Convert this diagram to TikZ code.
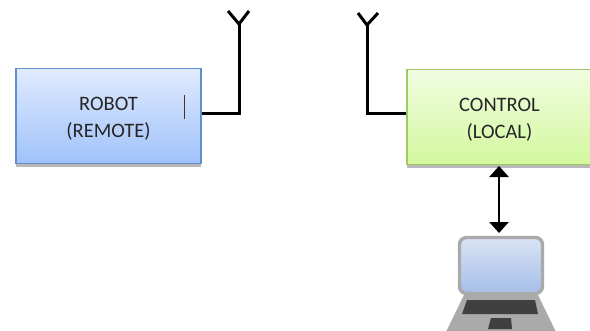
\documentclass[tikz,border=0pt]{standalone}
\usepackage{fontspec}
\setmainfont{Carlito}
\usetikzlibrary{arrows.meta}
\definecolor{blueedge}{RGB}{96,144,204}
\definecolor{bluetop}{RGB}{224,235,254}
\definecolor{bluebot}{RGB}{160,194,250}
\definecolor{greenedge}{RGB}{160,200,100}
\definecolor{greentop}{RGB}{241,253,226}
\definecolor{greenbot}{RGB}{211,248,158}
\definecolor{shadowgray}{RGB}{185,185,185}
\definecolor{lapgray}{RGB}{170,170,170}
\definecolor{lapdark}{RGB}{64,64,64}
\definecolor{scrtop}{RGB}{218,228,244}
\definecolor{scrbot}{RGB}{165,190,232}
\definecolor{tick}{RGB}{80,50,25}
\tikzset{
  x=1pt,y=-1pt,
  boxtext/.style={align=center,font=\fontsize{20.5}{27}\selectfont,text=black!85,inner sep=0pt,draw,line width=1.1pt,text width=160pt},
  robotbox/.style={boxtext,draw=blueedge,top color=bluetop,bottom color=bluebot,minimum width=185pt,minimum height=95pt},
  controlbox/.style={boxtext,draw=greenedge,top color=greentop,bottom color=greenbot,minimum width=185pt,minimum height=95pt},
  aerial/.style={line width=3pt,black,line join=miter},
  linkarrow/.style={line width=2.8pt,black,{Triangle[width=19pt,length=11pt]}-{Triangle[width=19pt,length=11pt]},shorten >=0pt,shorten <=0pt},
}
\begin{document}
\begin{tikzpicture}
\useasboundingbox (0,0) rectangle (590,330);
% laptop
\fill[lapgray] (464,295) -- (538,295) -- (556,332) -- (446,332) -- cycle;
\fill[lapdark] (467,300) -- (535,300) -- (538,314) -- (462,314) -- cycle;
\fill[lapdark] (491,318) -- (511,318) -- (512,329) -- (488,329) -- cycle;
\node[draw=lapgray,line width=3.4pt,rounded corners=7pt,top color=scrtop,bottom color=scrbot,minimum width=83pt,minimum height=56pt,inner sep=0pt] (screen) at (501,265.5) {};
% shadows
\fill[shadowgray] (16,163) rectangle (201,166.5);
\fill[shadowgray] (407,164) rectangle (592,168);
% boxes
\node[robotbox] (robot) at (108.5,116) {\rule{0pt}{19pt}ROBOT\\(REMOTE)};
\node[controlbox] (control) at (499.5,117) {\rule{0pt}{19pt}CONTROL\\(LOCAL)};
\draw[tick,line width=1pt] (184,95) -- (184,119);
% aerials
\coordinate (ra) at (239,24);
\coordinate (rl) at (228,11);
\coordinate (rr) at (249,11);
\coordinate (ca) at (367,25);
\coordinate (cl) at (358,13);
\coordinate (cr) at (378,13);
\draw[aerial] (robot.east |- 0,113) -- (239,113) -- (ra);
\draw[aerial] (rl) -- (ra) -- (rr);
\draw[aerial] (control.west |- 0,113) -- (367,113) -- (ca);
\draw[aerial] (cl) -- (ca) -- (cr);
% link
\coordinate (ltop) at (499,233);
\coordinate (ctop) at (499,166);
\draw[linkarrow] (ctop) -- (ltop);
\end{tikzpicture}
\end{document}
